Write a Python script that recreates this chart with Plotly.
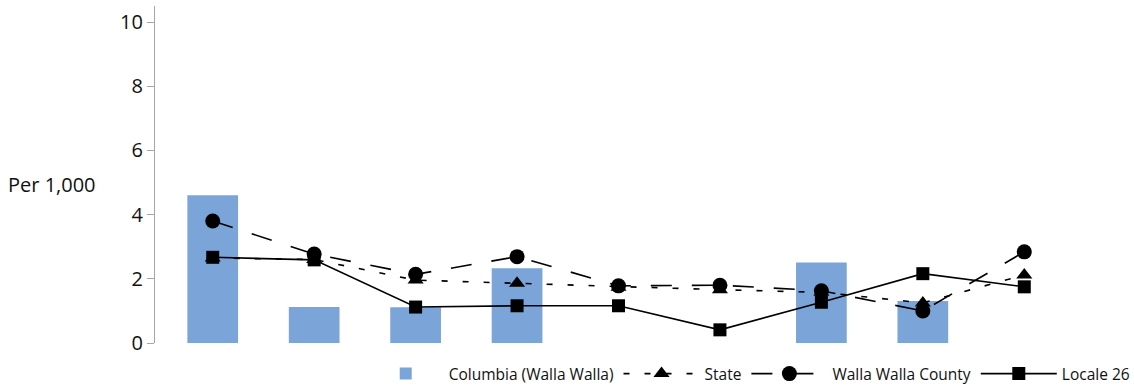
import plotly.graph_objects as go

categories = ["C1", "C2", "C3", "C4", "C5", "C6", "C7", "C8", "C9"]
columbia = [4.60, 1.12, 1.11, 2.33, None, None, 2.51, 1.31, None]
state = [2.65, 2.60, 1.96, 1.86, 1.74, 1.66, 1.58, 1.25, 2.12]
walla_walla_county = [3.80, 2.77, 2.14, 2.69, 1.78, 1.80, 1.63, 1.00, 2.84]
locale_26 = [2.67, 2.59, 1.12, 1.16, 1.16, 0.41, 1.27, 2.16, 1.75]
y_ticks = [0, 2, 4, 6, 8, 10]

FONT = "Open Sans"

fig = go.Figure()
fig.add_trace(go.Bar(
    x=categories, y=columbia, name="Columbia (Walla Walla)",
    marker=dict(color="#7BA5D8", line=dict(width=0)),
))
fig.add_trace(go.Scatter(
    x=categories, y=state, name="State", mode="lines+markers",
    line=dict(color="black", width=1.6, dash="6px,15px"),
    marker=dict(symbol="triangle-up", size=14, color="black"),
))
fig.add_trace(go.Scatter(
    x=categories, y=walla_walla_county, name="Walla Walla County", mode="lines+markers",
    line=dict(color="black", width=1.6, dash="21px,20px"),
    marker=dict(symbol="circle", size=15, color="black"),
))
fig.add_trace(go.Scatter(
    x=categories, y=locale_26, name="Locale 26", mode="lines+markers",
    line=dict(color="black", width=1.6),
    marker=dict(symbol="square", size=13, color="black"),
))

fig.update_layout(
    width=1134, height=386,
    margin=dict(l=155, r=59, t=6, b=43, autoexpand=False),
    paper_bgcolor="white", plot_bgcolor="white",
    bargap=0.5,
    showlegend=True,
    legend=dict(
        orientation="h", x=1.066, xanchor="right", y=-0.092, yanchor="middle",
        font=dict(family=FONT, size=15.5, color="#111"),
        itemwidth=76, traceorder="normal", bgcolor="rgba(0,0,0,0)",
    ),
    annotations=[dict(
        text="Per 1,000", xref="paper", yref="paper", x=-0.162, y=0.469,
        xanchor="left", yanchor="middle", showarrow=False,
        font=dict(family=FONT, size=20, color="#111"),
    )],
)
fig.update_xaxes(
    range=[-0.569, 8.5], showticklabels=False, showline=False,
    showgrid=False, zeroline=False, ticks="",
)
fig.update_yaxes(
    range=[0, 10.5], tickvals=y_ticks, showline=True, linecolor="#A6A6A6", linewidth=1.3,
    ticks="outside", ticklen=7, tickcolor="#A6A6A6", tickwidth=1.3,
    showgrid=False, zeroline=False,
    tickfont=dict(family=FONT, size=20, color="#111"),
)

fig.write_html(
    "out.html",
    config={"displayModeBar": False},
    post_script="document.body.style.margin='0';document.body.style.overflow='hidden';",
)
